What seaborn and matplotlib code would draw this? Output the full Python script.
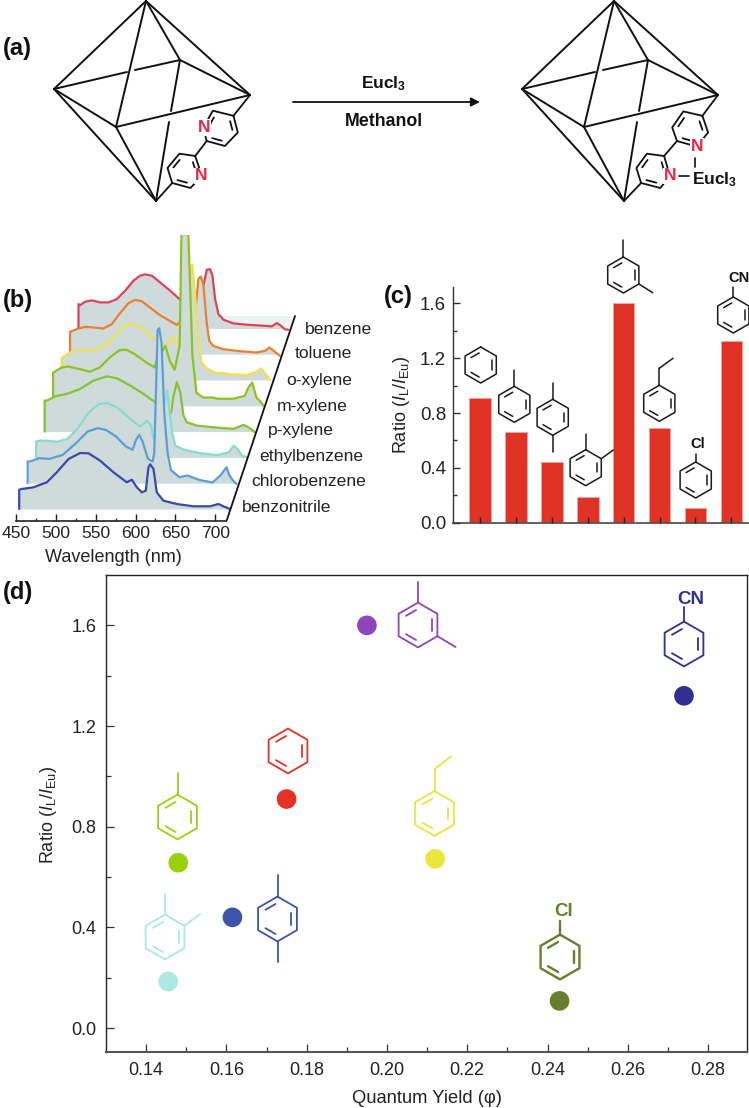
import numpy as np
import seaborn as sns
import matplotlib
matplotlib.use('Agg')
import matplotlib.pyplot as plt

W, H = 749, 1108

solvents = ['benzene', 'toluene', 'p-xylene', 'o-xylene', 'm-xylene', 'ethylbenzene', 'chlorobenzene', 'benzonitrile']
ratio_bars = [0.91, 0.66, 0.44, 0.185, 1.60, 0.69, 0.105, 1.325]
ratio_points = [0.91, 0.657, 0.44, 0.185, 1.60, 0.672, 0.108, 1.32]
qy = [0.175, 0.148, 0.1615, 0.1455, 0.195, 0.212, 0.243, 0.274]
point_colors = ['#e33327', '#9bd00f', '#3b55a9', '#abe9e1', '#8e45b9', '#e8e63f', '#677f2d', '#2f3192']

# spectra: wavelength (nm) and intensity (a.u.)
wl_benzonitrile = [454, 454, 457.3, 472, 488.7, 501.2, 515.9, 530.5, 541, 555.6, 572.3, 589, 595.3, 601.6, 607.8, 612.8, 616.2, 618.3, 622.5, 626.6, 635, 651.7, 672.6, 693.5, 704, 710.2, 718.6]
in_benzonitrile = [0, 19.3, 20, 21.7, 26.7, 36.7, 50, 56, 55.7, 48.3, 36.7, 26.7, 29.3, 21.7, 16.7, 18.3, 41.7, 44.7, 40, 16.7, 8.3, 5, 2.7, 2.7, 5, 2.7, 0]
wl_chloro = [454, 454, 456.9, 468.6, 481.2, 497.9, 514.6, 529.2, 541.8, 552.2, 564.8, 577.3, 585.7, 589.9, 594, 598.2, 604.5, 610.8, 612.8, 614.9, 617, 619.1, 622, 625.4, 629.6, 633.7, 644.2, 654.6, 669.3, 686, 696.4, 703.5, 706.9, 711, 716]
in_chloro = [0, 21.7, 21.7, 25, 24.3, 28.3, 40, 51.7, 55, 53.3, 46.7, 36.7, 33.3, 43.3, 48.3, 41.7, 25, 21.7, 30, 90, 153.3, 155, 140, 70, 30, 13.3, 6, 7.7, 3.3, 0.7, 8.3, 16, 8.3, 3.3, -0.7]
wl_ethyl = [454, 454, 457.3, 467.8, 480.3, 492.9, 505.4, 520, 532.6, 543, 555.6, 572.3, 584.8, 593.2, 598.2, 601.6, 610, 614.1, 618.3, 621.6, 624.5, 628.7, 639.2, 660, 681, 695.6, 701.9, 706.9, 712.3, 719.4]
in_ethyl = [0, 15.7, 16.7, 16.7, 15.7, 18.3, 28.3, 45, 53.3, 54.3, 50, 38.3, 30.7, 36.7, 31.7, 18.3, 12, 50, 66.7, 45, 25, 11.7, 7.7, 4.3, 2.3, 5, 11.7, 8.3, 1.7, 0]
wl_pxyl = [454, 454, 456.9, 467.4, 482, 498.7, 515.4, 532.2, 544.7, 561.4, 578.1, 592.8, 603.2, 612.8, 615.8, 620, 624.1, 628.3, 632.5, 645, 666, 691, 703.5, 709.8, 718.2]
in_pxyl = [0, 31, 31, 35.3, 37.7, 42.7, 51, 55.3, 53.3, 46, 37.7, 29.3, 22, 19.3, 36, 49.3, 39.3, 16, 9.3, 6, 4.3, 2.7, 6.7, 4.3, -0.7]
wl_mxyl = [454, 454, 456.1, 464.5, 472.8, 487.4, 500, 512.5, 525, 537.6, 546, 556.4, 571, 581.5, 583.6, 594.9, 600.3, 606.6, 612.8, 615.4, 621.3, 623.8, 628.8, 633.9, 642.2, 654.6, 660.9, 680, 694.6, 698.8, 703.8, 709.2, 713.4, 718]
in_mxyl = [0, 33.3, 34, 38.3, 39.3, 36.7, 34, 38.3, 48.3, 55.7, 56, 51.7, 43.3, 38.3, 45, 60, 45, 36, 60, 190, 190, 170, 50, 13, 8.3, 8.3, 7, 7, 10, 18, 23.3, 8, 5, 0]
wl_oxyl = [454, 454, 456.1, 466.5, 481.2, 497.9, 510.4, 523, 533.4, 541.8, 552.2, 564.8, 573.1, 581.5, 589.9, 594, 598.2, 604.5, 610.8, 615, 618, 621.2, 625.4, 629.6, 635.8, 648.4, 654.6, 665, 686, 698.8, 704.2, 709.2, 715.5]
in_oxyl = [0, 21.7, 23.3, 28.3, 29, 31, 35, 46.7, 54.3, 56.3, 53.3, 45, 40, 35, 38, 43.3, 38, 30, 50, 111.7, 115.7, 88, 41.7, 18, 11.7, 6.7, 7.3, 5.7, 5, 8.3, 11.7, 6.7, 0]
wl_toluene = [454, 454, 456.1, 464.5, 472.8, 483.3, 495.8, 506.3, 516.7, 527.2, 535.5, 543.9, 554.3, 566.9, 579.4, 587.8, 592, 600.3, 608.7, 612.8, 614.9, 617.9, 621.2, 625.4, 628.7, 633.7, 646.3, 667.2, 688, 698.5, 704, 708.1, 717.3]
in_toluene = [0, 22.3, 23, 25.7, 27.3, 26.7, 25.7, 30, 41, 51, 54.3, 53, 46.7, 39, 33.3, 29.3, 32, 30, 30, 55, 75, 77.7, 70, 31.7, 13.3, 8.3, 5, 3, 1.7, 3.3, 6.7, 4.3, -1.7]
wl_benzene = [454, 454, 456.1, 462.4, 470.7, 481.2, 491.6, 502.1, 512.5, 523, 531.3, 537.6, 546, 556.4, 569, 581.5, 594, 606.6, 611.6, 615, 619.1, 622, 625.4, 629.6, 635.8, 648.4, 665, 686, 696.4, 702.7, 706.9, 713.2, 717.3]
in_benzene = [0, 24.3, 23.3, 26.7, 28, 26, 26, 29.3, 37.7, 47.7, 52.7, 54, 52.7, 46, 37.7, 28.7, 30, 30, 46, 58.7, 59.3, 53, 29.3, 14.3, 8.7, 5, 3.7, 2.7, 2, 5.3, 3.3, -1, -1.3]

stack_wl = [wl_benzonitrile, wl_chloro, wl_ethyl, wl_pxyl, wl_mxyl, wl_oxyl, wl_toluene, wl_benzene]
stack_in = [in_benzonitrile, in_chloro, in_ethyl, in_pxyl, in_mxyl, in_oxyl, in_toluene, in_benzene]
stack_colors = ['#3a4aa6', '#5a9fd8', '#86dccf', '#86c232', '#8cc41e', '#f0e24a', '#e9802f', '#e0425a']

sns.set_theme(style='white')
plt.rcParams['font.family'] = ['Liberation Sans', 'DejaVu Sans']
plt.rcParams['mathtext.fontset'] = 'custom'
plt.rcParams['mathtext.rm'] = 'Liberation Sans'
plt.rcParams['mathtext.it'] = 'Liberation Sans:italic'
plt.rcParams['mathtext.bf'] = 'Liberation Sans:bold'

fig = plt.figure(figsize=(W / 100, H / 100), dpi=100)


def px_axes(left, top, right, bottom):
    return fig.add_axes([left / W, 1 - bottom / H, (right - left) / W, (bottom - top) / H])


# panel b, stacked spectra
ax_b = px_axes(16, 235, 300, 520.7)
for i in reversed(range(8)):
    x = np.array(stack_wl[i]) + i * 10.63
    y = np.array(stack_in[i]) + 11.7 + i * 25.8
    base = 11.7 + i * 25.8
    z = 2 * (8 - i)
    if i == 7:
        ax_b.fill_between([628 + i * 10.63, 722 + i * 10.63], base, base + 12.5, color='#ecf4f3', lw=0, zorder=1)
    ax_b.fill_between(x, base, y, color='#cfdadb', lw=0, zorder=z)
    sns.lineplot(x=x, y=y, sort=False, estimator=None, color=stack_colors[i], lw=1.6, ax=ax_b, zorder=z + 1)
ax_b.set_xlim(450, 806.3)
ax_b.set_ylim(0, 285.7)
ax_b.patch.set_alpha(0)
for s in ['top', 'right', 'left']:
    ax_b.spines[s].set_visible(False)
ax_b.spines['bottom'].set_bounds(450, 714)
ax_b.spines['bottom'].set_color('#222222')
ax_b.spines['bottom'].set_linewidth(1.2)
ax_b.set_xticks([450, 500, 550, 600, 650, 700])
ax_b.set_xticks(np.arange(475, 714, 50), minor=True)
ax_b.set_yticks([])
ax_b.tick_params(axis='x', which='major', bottom=True, direction='in', length=5, width=1, color='#222222', labelsize=12.6, labelcolor='#222222', pad=4)
ax_b.tick_params(axis='x', which='minor', bottom=True, direction='in', length=2.5, width=1, color='#222222')

# panel c, bars
ax_c = px_axes(453, 286.7, 749, 522.7)
sns.barplot(x=solvents, y=ratio_bars, color='#e03325', saturation=1, width=0.6, edgecolor='#f2a79f', linewidth=0.6, ax=ax_c)
ax_c.set_xlim(-0.752, 7.49)
ax_c.set_ylim(0, 1.722)
ax_c.set_axisbelow(False)
ax_c.set_yticks([0, 0.4, 0.8, 1.2, 1.6])
ax_c.set_yticklabels(['0.0', '0.4', '0.8', '1.2', '1.6'])
ax_c.set_yticks([0.2, 0.6, 1.0, 1.4], minor=True)
ax_c.tick_params(axis='y', which='major', left=True, direction='in', length=5, width=1, color='#333333', labelsize=13.5, labelcolor='#222222', pad=5)
ax_c.tick_params(axis='y', which='minor', left=True, direction='in', length=3, width=1, color='#333333')
ax_c.tick_params(axis='x', bottom=True, direction='in', length=4.5, width=1, color='#222222', labelbottom=False)
for s in ['top', 'right']:
    ax_c.spines[s].set_visible(False)
ax_c.spines['left'].set_color('#333333')
ax_c.spines['left'].set_linewidth(1)
ax_c.spines['bottom'].set_color('#555555')
ax_c.spines['bottom'].set_linewidth(1.3)
ax_c.set_ylabel(r'Ratio ($\mathit{I}_{\mathrm{L}}/\mathit{I}_{\mathrm{Eu}}$)', fontsize=13, color='#222222')
ax_c.yaxis.set_label_coords(412 / W, 1 - 405 / H, transform=fig.transFigure)

# panel d, scatter
ax_d = px_axes(106, 575, 747, 1052)
sns.scatterplot(x=qy, y=ratio_points, hue=solvents, palette=dict(zip(solvents, point_colors)), s=200, linewidth=0, legend=False, ax=ax_d)
ax_d.set_xlim(0.13, 0.2897)
ax_d.set_ylim(-0.095, 1.80)
ax_d.set_xticks(np.arange(0.14, 0.281, 0.02))
ax_d.set_xticklabels(['0.14', '0.16', '0.18', '0.20', '0.22', '0.24', '0.26', '0.28'])
ax_d.set_xticks(np.arange(0.15, 0.29, 0.02), minor=True)
ax_d.set_yticks([0, 0.4, 0.8, 1.2, 1.6])
ax_d.set_yticklabels(['0.0', '0.4', '0.8', '1.2', '1.6'])
ax_d.set_yticks([0.2, 0.6, 1.0, 1.4], minor=True)
ax_d.tick_params(axis='both', which='major', bottom=True, left=True, direction='in', length=6, width=0.9, color='#333333', labelsize=13, labelcolor='#222222', pad=7)
ax_d.tick_params(axis='both', which='minor', bottom=True, left=True, direction='in', length=3.5, width=0.9, color='#333333')
for s in ['top', 'right', 'left']:
    ax_d.spines[s].set_color('#222222')
    ax_d.spines[s].set_linewidth(1)
ax_d.spines['bottom'].set_color('#555555')
ax_d.spines['bottom'].set_linewidth(1.5)
ax_d.set_xlabel('Quantum Yield (\u03c6)', fontsize=13.2, color='#222222', labelpad=8)
ax_d.set_ylabel(r'Ratio ($\mathit{I}_{\mathrm{L}}/\mathit{I}_{\mathrm{Eu}}$)', fontsize=13, color='#222222')
ax_d.yaxis.set_label_coords(59 / W, 1 - 815 / H, transform=fig.transFigure)

# overlay in image pixels for the drawings and loose text
ov = fig.add_axes([0, 0, 1, 1], zorder=10)
ov.set_xlim(0, W)
ov.set_ylim(H, 0)
ov.axis('off')
ov.patch.set_alpha(0)


def seg(p, q, color='#111111', lw=1.4):
    ov.plot([p[0], q[0]], [p[1], q[1]], color=color, lw=lw, solid_capstyle='round')


def octa(dx):
    top = (146 + dx, 1)
    left = (54 + dx, 89)
    right = (250 + dx, 95)
    bottom = (156 + dx, 201)
    back = (180 + dx, 60)
    front = (116 + dx, 127)
    for p, q in [(top, left), (top, right), (left, bottom), (left, front), (top, front), (top, back),
                 (back, right), (front, right), (front, bottom)]:
        seg(p, q)
    seg(left, (127 + dx, 72))
    seg((135 + dx, 70), back)
    seg(back, (171 + dx, 111))
    seg((169 + dx, 122), bottom)


def ring_px(verts, doubles, color='#111111', lw=1.3):
    v = np.array(verts, dtype=float)
    c = v.mean(axis=0)
    ov.plot(list(v[:, 0]) + [v[0, 0]], list(v[:, 1]) + [v[0, 1]], color=color, lw=lw, solid_joinstyle='round')
    for a, b in doubles:
        p = c + 0.72 * (v[a] - c)
        q = c + 0.72 * (v[b] - c)
        m = (p + q) / 2
        seg(m + 0.72 * (p - m), m + 0.72 * (q - m), color, lw)


def benzene_ring(cx, cy, r, color, lw):
    ang = np.radians([90, 30, -30, -90, -150, 150])
    verts = np.column_stack([cx + r * np.cos(ang), cy - r * np.sin(ang)])
    ring_px(verts, [(1, 2), (3, 4), (5, 0)], color, lw)


octa(0)
octa(468)
# left ligand
ring_px([(233.5, 115.8), (237.8, 132.5), (224.9, 146), (206.7, 141), (203.3, 127.5), (212.9, 110.7)], [(0, 1), (2, 3), (4, 5)])
ring_px([(195.2, 156), (201.9, 176), (190.4, 188), (172.2, 183), (167.5, 168), (179.4, 153.7)], [(0, 1), (2, 3), (4, 5)])
seg((206.7, 141), (195.2, 156), lw=1.3)
seg((233.5, 115.8), (250, 95), lw=1.3)
seg((172.2, 183), (156, 201), lw=1.3)
n_box = dict(facecolor='white', edgecolor='none', pad=0.6)
ov.text(204, 127.5, 'N', color='#e8274b', fontsize=12.5, fontweight='bold', ha='center', va='center', bbox=n_box)
ov.text(201.5, 176, 'N', color='#e8274b', fontsize=12.5, fontweight='bold', ha='center', va='center', bbox=n_box)
# right ligand
ring_px([(702.4, 115.8), (708.1, 132.5), (696.7, 146.6), (677, 141), (672.2, 127.5), (683.3, 111.4)], [(0, 1), (2, 3), (4, 5)])
ring_px([(664.1, 156), (669.9, 176), (660.3, 188), (641.1, 183), (636.4, 168), (646.9, 153.7)], [(0, 1), (2, 3), (4, 5)])
seg((677, 141), (664.1, 156), lw=1.3)
seg((702.4, 115.8), (718, 95), lw=1.3)
seg((641.1, 183), (624, 201), lw=1.3)
ov.text(696.7, 146.6, 'N', color='#e8274b', fontsize=12.5, fontweight='bold', ha='center', va='center', bbox=n_box)
ov.text(670, 176, 'N', color='#e8274b', fontsize=12.5, fontweight='bold', ha='center', va='center', bbox=n_box)
seg((694.7, 157.7), (694.7, 167), lw=1.2)
seg((679.4, 176.2), (689, 176.2), lw=1.2)
eu = r'$\mathbf{Eucl}_{\mathbf{3}}$'
ov.text(692, 180, eu, fontsize=12.5, color='#111111', ha='left', va='center')
ov.text(384, 84, eu, fontsize=12.5, color='#111111', ha='center', va='center')
ov.text(384, 121, 'Methanol', fontsize=12.8, fontweight='bold', color='#111111', ha='center', va='center')
ov.annotate('', xy=(480, 102), xytext=(293, 102), arrowprops=dict(arrowstyle='-|>', color='#111111', lw=1.3, mutation_scale=13, shrinkA=0, shrinkB=0))

for txt, px, py in [('(a)', 3, 49), ('(b)', 3, 300), ('(c)', 384, 296), ('(d)', 3, 593)]:
    ov.text(px, py, txt, fontsize=17, fontweight='bold', color='#111111', ha='left', va='center')

# panel b slant axis and solvent names
seg((226.7, 520.5), (295, 316), '#111111', 1.3)
for txt, px, py in [('benzene', 305, 329), ('toluene', 295, 354), ('o-xylene', 286, 380), ('m-xylene', 277, 406),
                    ('p-xylene', 268, 431), ('ethylbenzene', 259, 457), ('chlorobenzene', 251, 482), ('benzonitrile', 242, 508)]:
    ov.text(px, py, txt, fontsize=12.6, color='#222222', ha='left', va='center')
ov.text(113, 558, 'Wavelength (nm)', fontsize=13, color='#222222', ha='center', va='center')

# panel c molecules
k = '#1a1a1a'
benzene_ring(480.7, 365, 18, k, 1.1)
benzene_ring(514.3, 404.3, 18, k, 1.1)
benzene_ring(552.7, 417.3, 18, k, 1.1)
benzene_ring(585.7, 467.7, 18, k, 1.1)
benzene_ring(623.3, 275, 18, k, 1.1)
benzene_ring(659.3, 403.3, 18, k, 1.1)
benzene_ring(695.7, 480, 18, k, 1.1)
benzene_ring(733.3, 315, 18, k, 1.1)
for p, q in [((514.3, 386.3), (514.3, 370)),
             ((552.7, 399.3), (552.7, 383.3)), ((552.7, 435.3), (552.7, 451.7)),
             ((585.7, 449.7), (585.7, 434)), ((601.3, 458.7), (613.3, 450)),
             ((623.3, 257), (623.3, 240)), ((638.9, 284), (652.7, 292.7)),
             ((659.3, 385.3), (659.3, 368.3)), ((659.3, 368.3), (673, 358.3)),
             ((695.7, 462), (695.7, 454)), ((733.3, 297), (733.3, 287))]:
    seg(p, q, k, 1.1)
ov.text(698, 444, 'Cl', fontsize=10.5, fontweight='bold', color='#111111', ha='center', va='center')
ov.text(739, 278, 'CN', fontsize=10.5, fontweight='bold', color='#111111', ha='center', va='center')

# panel d molecules
lw_d = 1.3
benzene_ring(288, 751, 22.4, point_colors[0], lw_d)
benzene_ring(177.5, 817, 22.4, point_colors[1], lw_d)
seg((177.5, 794.6), (177.5, 773), point_colors[1], lw_d)
benzene_ring(277.5, 919, 22.4, point_colors[2], lw_d)
seg((277.5, 896.6), (277.5, 875), point_colors[2], lw_d)
seg((277.5, 941.4), (277.5, 962), point_colors[2], lw_d)
benzene_ring(165, 937, 22.4, point_colors[3], lw_d)
seg((165, 914.6), (165, 894), point_colors[3], lw_d)
seg((184.4, 925.8), (200, 914), point_colors[3], lw_d)
benzene_ring(418, 625, 22.4, point_colors[4], lw_d)
seg((418, 602.6), (418, 582), point_colors[4], lw_d)
seg((437.4, 636.2), (455.5, 647), point_colors[4], lw_d)
benzene_ring(434.5, 813.5, 22.4, point_colors[5], lw_d)
seg((434.5, 791), (434.5, 769), point_colors[5], lw_d)
seg((434.5, 769), (451, 756.5), point_colors[5], lw_d)
benzene_ring(560, 957, 22.4, point_colors[6], 1.7)
seg((560, 934.6), (560, 921), point_colors[6], 1.7)
ov.text(563.5, 912, 'Cl', fontsize=13.5, color=point_colors[6], fontweight='bold', ha='center', va='center')
benzene_ring(684, 644, 22.4, point_colors[7], lw_d)
seg((684, 621.6), (684, 607), point_colors[7], lw_d)
ov.text(691, 599, 'CN', fontsize=13.5, color=point_colors[7], fontweight='bold', ha='center', va='center')

fig.savefig('out.png', dpi=100)
